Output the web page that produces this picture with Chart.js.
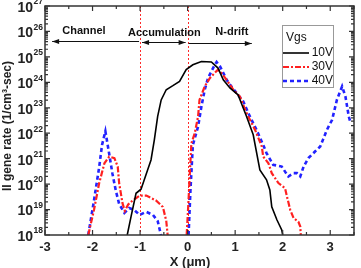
<!DOCTYPE html>
<html>
<head>
<meta charset="utf-8">
<script src="https://cdn.jsdelivr.net/npm/chart.js@4.4.0/dist/chart.umd.min.js"></script>
<style>
  html, body { margin: 0; padding: 0; background: #fff; }
  #wrap { width: 361px; height: 268px; }
</style>
</head>
<body>
<div id="wrap"><canvas id="chart" width="361" height="268"></canvas></div>
<script>
// --- DATA (y values stored as log10 of the rate) ---
const xTickLabels = [-3, -2, -1, 0, 1, 2, 3];
const yTickExps = [18, 19, 20, 21, 22, 23, 24, 25, 26, 27];
const seriesNames = ['10V', '30V', '40V'];

const black10X = [-1.27, -1.19, -1.085, -0.98, -0.84, -0.77, -0.70, -0.63, -0.556, -0.45, -0.31, -0.17, -0.03, 0.11, 0.29, 0.50, 0.64, 0.75, 0.89, 1.06, 1.24, 1.38, 1.52, 1.66, 1.73, 1.77, 1.88, 1.98, 2.0];
const black10Log = [18.0, 18.72, 19.64, 19.80, 20.56, 20.95, 21.74, 22.66, 23.31, 23.71, 23.87, 24.04, 24.50, 24.69, 24.82, 24.80, 24.56, 24.10, 23.78, 23.51, 22.66, 21.94, 20.56, 20.17, 19.77, 19.11, 18.59, 18.2, 18.0];

const red30X = [-2.09, -1.97, -1.86, -1.75, -1.65, -1.54, -1.47, -1.44, -1.37, -1.32, -1.25, -1.16, -1.01, -0.87, -0.66, -0.52, -0.45, -0.42, -0.2, -0.02, 0.02, 0.05, 0.08, 0.15, 0.22, 0.25, 0.36, 0.47, 0.57, 0.64, 0.71, 0.82, 0.96, 1.10, 1.24, 1.42, 1.56, 1.59, 1.70, 1.77, 1.91, 2.05, 2.09, 2.16, 2.23, 2.33, 2.37, 2.38];
const red30Log = [18.0, 18.98, 20.04, 20.82, 21.08, 21.02, 20.69, 20.04, 19.25, 18.95, 19.2, 19.35, 19.55, 19.55, 19.35, 19.1, 18.56, 18.0, null, 18.0, 19.38, 20.56, 21.61, 22.0, 22.66, 23.31, 23.84, 24.17, 24.37, 24.50, 24.37, 24.10, 23.71, 23.44, 22.79, 22.13, 21.48, 21.08, 20.82, 20.43, 20.04, 19.84, 19.51, 18.98, 18.66, 18.52, 18.33, 18.0];

const blue40X = [-2.09, -1.97, -1.86, -1.80, -1.73, -1.65, -1.58, -1.51, -1.44, -1.33, -1.23, -1.12, -1.01, -0.87, -0.73, -0.63, -0.56, -0.3, 0.02, 0.06, 0.11, 0.22, 0.29, 0.36, 0.43, 0.50, 0.57, 0.61, 0.68, 0.75, 0.82, 0.92, 1.03, 1.17, 1.31, 1.45, 1.59, 1.66, 1.80, 1.98, 2.05, 2.12, 2.23, 2.30, 2.37, 2.44, 2.54, 2.68, 2.79, 2.93, 3.04, 3.14, 3.25, 3.32, 3.39, 3.42];
const blue40Log = [18.0, 19.35, 20.67, 21.54, 22.08, 21.19, 20.40, 19.74, 19.22, 18.87, 19.06, 18.98, 18.79, 18.91, 18.79, 18.55, 18.0, null, 18.0, 19.77, 21.54, 22.26, 23.05, 23.71, 24.17, 24.43, 24.69, 24.80, 24.63, 24.37, 24.10, 23.84, 23.58, 23.25, 22.66, 22.13, 21.54, 21.22, 20.76, 20.69, 20.49, 20.30, 20.43, 20.43, 20.30, 20.69, 21.02, 21.28, 21.48, 22.13, 22.53, 23.31, 23.84, 23.44, 22.66, 22.46];

// --- HELPERS ---
const toPoints = (xs, logs) => xs.map((x, i) => ({ x: x, y: logs[i] === null ? null : Math.pow(10, logs[i]) }));
const FONT = '"Liberation Sans", Arial, sans-serif';

// arrow helper
function arrowHead(ctx, x, y, dir) {
    ctx.beginPath();
    ctx.moveTo(x, y);
    ctx.lineTo(x - dir * 7, y - 2.5);
    ctx.lineTo(x - dir * 7, y + 2.5);
    ctx.closePath();
    ctx.fill();
}

// --- DECORATION PLUGIN: frame, inward ticks, superscript labels, notes, legend ---
const decor = {
    id: 'decor',
    beforeDatasetsDraw(chart) {
        const { ctx, chartArea: a, scales: { x } } = chart;
        // red dotted region dividers
        ctx.save();
        ctx.strokeStyle = '#ff2a2a';
        ctx.lineWidth = 1;
        ctx.setLineDash([2, 2]);
        [-1, 0].forEach(v => {
            const px = Math.round(x.getPixelForValue(v)) + 0.5;
            ctx.beginPath();
            ctx.moveTo(px, a.top);
            ctx.lineTo(px, a.bottom);
            ctx.stroke();
        });
        ctx.restore();
    },
    afterDatasetsDraw(chart) {
        const { ctx, chartArea: a, scales: { x, y } } = chart;
        ctx.save();

        // frame
        ctx.strokeStyle = '#333';
        ctx.lineWidth = 1.5;
        ctx.strokeRect(a.left, a.top, a.right - a.left, a.bottom - a.top);

        // x ticks (major at integers, minor at halves) top + bottom
        ctx.lineWidth = 1.2;
        for (let v = -3; v <= 3.5; v += 0.5) {
            const px = x.getPixelForValue(v);
            const len = Number.isInteger(v) ? 5 : 3;
            ctx.beginPath();
            ctx.moveTo(px, a.bottom); ctx.lineTo(px, a.bottom - len);
            ctx.moveTo(px, a.top); ctx.lineTo(px, a.top + len);
            ctx.stroke();
        }
        // y ticks (decades + log minors) left + right
        yTickExps.forEach(e => {
            for (let m = 1; m <= 9; m++) {
                if (e === 27 && m > 1) break;
                const py = y.getPixelForValue(m * Math.pow(10, e));
                const len = m === 1 ? 5 : 3;
                ctx.beginPath();
                ctx.moveTo(a.left, py); ctx.lineTo(a.left + len, py);
                ctx.moveTo(a.right, py); ctx.lineTo(a.right - len, py);
                ctx.stroke();
            }
        });

        // y tick labels 10^n
        ctx.fillStyle = '#222';
        yTickExps.forEach(e => {
            const py = y.getPixelForValue(Math.pow(10, e));
            ctx.font = 'bold 14px ' + FONT;
            ctx.textAlign = 'right';
            ctx.textBaseline = 'middle';
            ctx.fillText('10', 33, py + 2);
            ctx.font = 'bold 8.5px ' + FONT;
            ctx.textAlign = 'left';
            ctx.fillText(String(e), 33.5, py - 4);
        });

        // axis titles
        ctx.font = 'bold 13px ' + FONT;
        ctx.textAlign = 'center';
        ctx.textBaseline = 'middle';
        ctx.fillText('X (\u03bcm)', 190, 262);
        ctx.save();
        ctx.font = 'bold 12px ' + FONT;
        ctx.translate(8, 126);
        ctx.rotate(-Math.PI / 2);
        ctx.fillText('II gene rate (1/cm\u00b3-sec)', 0, 0);
        ctx.restore();

        // region notes with arrows
        ctx.font = 'bold 11px ' + FONT;
        ctx.fillStyle = '#111';
        ctx.fillText('Channel', x.getPixelForValue(-2.18), 31);
        ctx.fillText('Accumulation', x.getPixelForValue(-0.49), 33);
        ctx.fillText('N-drift', x.getPixelForValue(0.93), 32);

        ctx.strokeStyle = '#111';
        ctx.lineWidth = 1;
        const xa = x.getPixelForValue(-2.85), x1 = x.getPixelForValue(-1), x0 = x.getPixelForValue(0), xb = x.getPixelForValue(1.35);
        ctx.beginPath(); ctx.moveTo(xa, 41.5); ctx.lineTo(x1 - 1, 41.5); ctx.stroke();
        arrowHead(ctx, xa, 41.5, -1);
        ctx.beginPath(); ctx.moveTo(x1 + 2, 42.5); ctx.lineTo(x0 - 2, 42.5); ctx.stroke();
        arrowHead(ctx, x1 + 2, 42.5, -1);
        arrowHead(ctx, x0 - 2, 42.5, 1);
        ctx.beginPath(); ctx.moveTo(x0 + 1, 43.5); ctx.lineTo(xb, 43.5); ctx.stroke();
        arrowHead(ctx, xb, 43.5, 1);

        // legend box
        const lx = 282, ly = 25, lw = 51, lh = 62;
        ctx.fillStyle = '#fff';
        ctx.fillRect(lx, ly, lw, lh);
        ctx.strokeStyle = '#999';
        ctx.lineWidth = 1;
        ctx.strokeRect(lx + 0.5, ly + 0.5, lw, lh);
        ctx.fillStyle = '#111';
        ctx.font = '12px ' + FONT;
        ctx.textAlign = 'left';
        ctx.fillText('Vgs', 286, 38);
        chart.data.datasets.forEach((ds, i) => {
            const yy = 53 + i * 14;
            ctx.strokeStyle = ds.borderColor;
            ctx.lineWidth = ds.borderWidth;
            ctx.setLineDash(ds.borderDash || []);
            ctx.beginPath(); ctx.moveTo(283, yy); ctx.lineTo(309, yy); ctx.stroke();
            ctx.setLineDash([]);
            ctx.textAlign = 'right';
            ctx.fillText(seriesNames[i], 333, yy);
        });

        ctx.restore();
    }
};

// --- CHART ---
function initChart() {
    const ctx = document.getElementById('chart');
    new Chart(ctx, {
        type: 'line',
        data: {
            datasets: [{
                label: seriesNames[0],
                data: toPoints(black10X, black10Log),
                borderColor: '#000000',
                borderWidth: 1.6,
                pointRadius: 0,
                tension: 0
            }, {
                label: seriesNames[1],
                data: toPoints(red30X, red30Log),
                borderColor: '#ff2020',
                borderWidth: 2.2,
                borderDash: [6, 2, 2, 2],
                pointRadius: 0,
                tension: 0,
                spanGaps: false
            }, {
                label: seriesNames[2],
                data: toPoints(blue40X, blue40Log),
                borderColor: '#2222ff',
                borderWidth: 2.6,
                borderDash: [4, 3],
                pointRadius: 0,
                tension: 0,
                spanGaps: false
            }]
        },
        options: {
            responsive: false,
            animation: false,
            layout: { padding: { top: 6, right: 7, left: 0, bottom: 0 } },
            plugins: { legend: { display: false }, tooltip: { enabled: false } },
            scales: {
                x: {
                    type: 'linear',
                    min: -3, max: 3.5,
                    grid: { display: false, drawTicks: false },
                    border: { display: false },
                    afterBuildTicks: s => { s.ticks = xTickLabels.map(v => ({ value: v })); },
                    ticks: {
                        autoSkip: false,
                        maxRotation: 0,
                        padding: 5,
                        color: '#222',
                        font: { family: FONT, size: 13, weight: 'bold' },
                        callback: v => String(v)
                    },
                    afterFit: s => { s.height = 33; }
                },
                y: {
                    type: 'logarithmic',
                    min: 1e18, max: 1e27,
                    grid: { display: false, drawTicks: false },
                    border: { display: false },
                    ticks: { display: false },
                    afterFit: s => { s.width = 45; }
                }
            }
        },
        plugins: [decor]
    });
}

initChart();
</script>
</body>
</html>
